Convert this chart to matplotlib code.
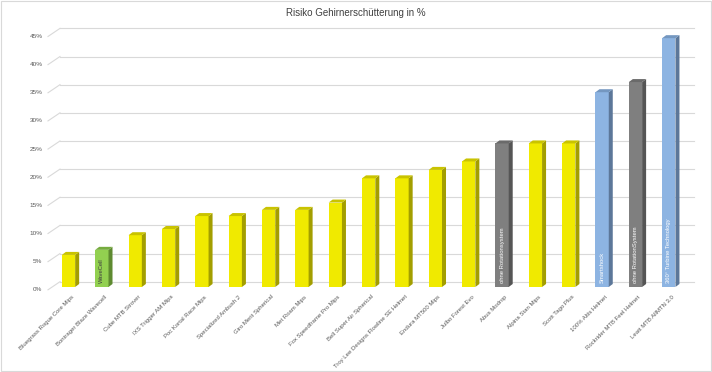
import matplotlib.pyplot as plt
from matplotlib.patches import Polygon, Rectangle
import numpy as np

plt.rcParams["font.family"] = ["Liberation Sans", "DejaVu Sans"]

# helmet names and concussion risk in percent
helmets = [
    "Bluegrass Rogue Core Mips", "Bontrager Blaze Wavecell", "Cube MTB Strover",
    "IXS Trigger AM Mips", "Poc Kortal Race Mips", "Specialized Ambush 2",
    "Giro Merit Spherical", "Met Roam Mips", "Fox Speedframe Pro Mips",
    "Bell Super Air Spherical", "Troy Lee Designs Flowline SE Helmet",
    "Endura MT500 Mips", "Julbo Forest Evo", "Abus Modrop", "Alpina Stan Mips",
    "Scott Tago Plus", "100% Altis Helmet", "Rockrider MTB Feel Helmet",
    "Leatt MTB AllMTN 3.0",
]
risk = [5.7, 6.6, 9.2, 10.3, 12.6, 12.6, 13.7, 13.7, 15.0, 19.3, 19.3,
        20.8, 22.3, 25.5, 25.5, 25.5, 34.6, 36.4, 44.2]
kind = ["y", "g", "y", "y", "y", "y", "y", "y", "y", "y", "y",
        "y", "y", "k", "y", "y", "b", "k", "b"]
notes = {1: "WaveCell", 13: "ohne Rotationsystem", 16: "Smartshock",
         17: "ohne RotationSystem", 18: "360° Turbine Technology"}
yticks = [0, 5, 10, 15, 20, 25, 30, 35, 40, 45]

# front, top, side colours
palette = {
    "y": ("#F0EA00", "#C9C300", "#A39E00"),
    "g": ("#92D050", "#76AC3E", "#5E8A30"),
    "k": ("#7F7F7F", "#6A6A6A", "#555555"),
    "b": ("#8DB4E2", "#7497C0", "#5C7799"),
}

fig = plt.figure(figsize=(7.12, 3.72), dpi=100)
ax = fig.add_axes([0, 0, 1, 1])
ax.set_xlim(-2.054, 19.295)
ax.set_ylim(-15.10, 50.98)
ax.axis("off")

# depth offsets (data units)
px_x = 1 / 33.35
px_y = 5 / 28.15
back_dx, back_dy = 12 * px_x, 5.3 * px_y
bar_w = 13.3 * px_x
side_dx, side_dy = 4 * px_x, 3 * px_y

# back wall gridlines and left diagonals
for t in yticks:
    ax.plot([-0.255, 18.75], [t + back_dy, t + back_dy], color="#D9D9D9", lw=0.8, zorder=1)
    ax.plot([-0.615, -0.255], [t - 0.5, t + back_dy], color="#D9D9D9", lw=0.8, zorder=1)
    ax.text(-0.78, t - 0.5, f"{t}%", ha="right", va="center", fontsize=4.6, color="#595959")

for i, (v, k) in enumerate(zip(risk, kind)):
    front, top, side = palette[k]
    x0 = i - bar_w / 2
    x1 = i + bar_w / 2
    ax.add_patch(Rectangle((x0, 0), bar_w, v, facecolor=front, edgecolor="none", zorder=3))
    ax.add_patch(Polygon([(x1, 0), (x1 + side_dx, side_dy), (x1 + side_dx, v + side_dy), (x1, v)],
                         facecolor=side, edgecolor="none", zorder=3))
    ax.add_patch(Polygon([(x0, v), (x1, v), (x1 + side_dx, v + side_dy), (x0 + side_dx, v + side_dy)],
                         facecolor=top, edgecolor="none", zorder=3))
    ax.text(i + 0.08, -1.3, helmets[i], rotation=45, rotation_mode="anchor",
            ha="right", va="top", fontsize=4.3, color="#595959")
    if i in notes:
        ax.text(i, 0.7, notes[i], rotation=90, ha="center", va="bottom", fontsize=4.2,
                color="#404040" if k == "g" else "white", zorder=4)

ax.text(0.5, 1 - 13 / 372, "Risiko Gehirnerschütterung in %", transform=ax.transAxes,
        ha="center", va="center", fontsize=7, color="#404040")

fig.add_artist(Rectangle((0.001, 0.002), 0.997, 0.995, transform=fig.transFigure,
                         fill=False, edgecolor="#D9D9D9", lw=0.8))

fig.savefig("out.png", dpi=100)
